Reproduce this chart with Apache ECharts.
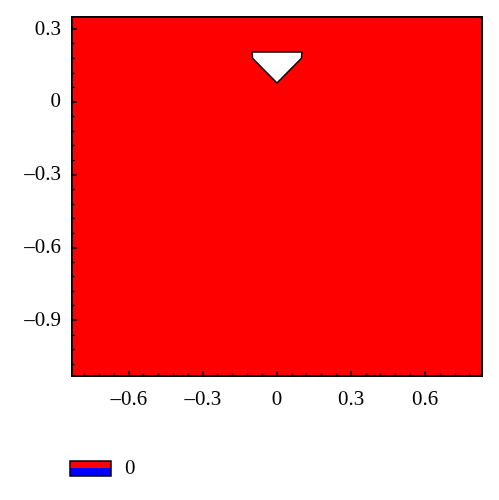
<!DOCTYPE html>
<html>
<head>
<meta charset="utf-8">
<script src="https://cdn.jsdelivr.net/npm/echarts@6/dist/echarts.min.js"></script>
<style>html,body{margin:0;padding:0;background:#fff}#c{width:499px;height:500px}</style>
</head>
<body>
<div id="c"></div>
<script>
// Domain (red region) outer boundary
const regionX = [-0.83, 0.83, 0.83, -0.83];
const regionY = [-1.13, -1.13, 0.35, 0.35];
// Hole (white) boundary
const holeX = [-0.101, 0.101, 0.099, 0.0, -0.099];
const holeY = [0.206, 0.206, 0.180, 0.078, 0.180];
// Axis ranges
const xRange = [-0.83, 0.83];
const yRange = [-1.13, 0.35];
// Tick values and labels
const xTickValues = [-0.6, -0.3, 0, 0.3, 0.6];
const xTickLabels = ['\u20130.6', '\u20130.3', '0', '0.3', '0.6'];
const yTickValues = [-0.9, -0.6, -0.3, 0, 0.3];
const yTickLabels = ['\u20130.9', '\u20130.6', '\u20130.3', '0', '0.3'];
const xMinorTicks = [-0.78, -0.72, -0.66, -0.54, -0.48, -0.42, -0.36, -0.24, -0.18, -0.12, -0.06,
  0.06, 0.12, 0.18, 0.24, 0.36, 0.42, 0.48, 0.54, 0.66, 0.72, 0.78];
const yMinorTicks = [-1.08, -1.02, -0.96, -0.84, -0.78, -0.72, -0.66, -0.54, -0.48, -0.42, -0.36,
  -0.24, -0.18, -0.12, -0.06, 0.06, 0.12, 0.18, 0.24];
const legendLabels = ['0'];

const FONT = 'Liberation Serif';
const chart = echarts.init(document.getElementById('c'));

function polyRenderer(xs, ys, style) {
  return function (params, api) {
    const pts = xs.map((x, i) => api.coord([x, ys[i]]));
    return { type: 'polygon', shape: { points: pts }, style: style };
  };
}

function fmt(values, labels) {
  return function (v) {
    for (let i = 0; i < values.length; i++) if (Math.abs(values[i] - v) < 1e-9) return labels[i];
    return '';
  };
}

const baseX = {
  type: 'value', min: xRange[0], max: xRange[1], position: 'bottom', z: 10,
  splitLine: { show: false },
  axisLine: { show: true, onZero: false, lineStyle: { color: '#000', width: 2 } }
};
const baseY = {
  type: 'value', min: yRange[0], max: yRange[1], position: 'left', z: 10,
  splitLine: { show: false },
  axisLine: { show: true, onZero: false, lineStyle: { color: '#000', width: 2 } }
};

chart.setOption({
  animation: false,
  backgroundColor: '#fff',
  grid: { left: 72, right: 17, top: 17, bottom: 124, show: false },
  xAxis: [
    Object.assign({}, baseX, {
      axisTick: { show: true, inside: true, length: 5, lineStyle: { color: '#000', width: 1.5 }, customValues: xTickValues },
      axisLabel: { show: true, customValues: xTickValues, formatter: fmt(xTickValues, xTickLabels), color: '#000', fontFamily: FONT, fontSize: 21, margin: 13 }
    }),
    Object.assign({}, baseX, {
      axisTick: { show: true, inside: true, length: 3, lineStyle: { color: '#000', width: 1.2 }, customValues: xMinorTicks },
      axisLabel: { show: false }
    }),
    Object.assign({}, baseX, {
      position: 'top', axisTick: { show: false }, axisLabel: { show: false }
    })
  ],
  yAxis: [
    Object.assign({}, baseY, {
      axisTick: { show: true, inside: true, length: 5, lineStyle: { color: '#000', width: 1.5 }, customValues: yTickValues },
      axisLabel: { show: true, customValues: yTickValues, formatter: fmt(yTickValues, yTickLabels), color: '#000', fontFamily: FONT, fontSize: 21, margin: 11 }
    }),
    Object.assign({}, baseY, {
      axisTick: { show: true, inside: true, length: 3, lineStyle: { color: '#000', width: 1.2 }, customValues: yMinorTicks },
      axisLabel: { show: false }
    }),
    Object.assign({}, baseY, {
      position: 'right', axisTick: { show: false }, axisLabel: { show: false }
    })
  ],
  series: [
    {
      type: 'custom', name: legendLabels[0], xAxisIndex: 0, yAxisIndex: 0, z: 1,
      data: [[0, 0]], clip: true,
      renderItem: polyRenderer(regionX, regionY, { fill: '#ff0000', stroke: null })
    },
    {
      type: 'custom', name: 'hole', xAxisIndex: 0, yAxisIndex: 0, z: 2,
      data: [[0, 0]], clip: true,
      renderItem: polyRenderer(holeX, holeY, { fill: '#ffffff', stroke: '#000', lineWidth: 1.5, lineJoin: 'round' })
    }
  ],
  graphic: [
    { type: 'rect', shape: { x: 70, y: 461, width: 41, height: 8 }, style: { fill: '#ff0000' }, z: 10 },
    { type: 'rect', shape: { x: 70, y: 468, width: 41, height: 8 }, style: { fill: '#0000ff' }, z: 10 },
    { type: 'rect', shape: { x: 70, y: 461, width: 41, height: 15 }, style: { fill: 'none', stroke: '#000', lineWidth: 1.5 }, z: 11 },
    { type: 'text', x: 125, y: 468, style: { text: legendLabels[0], fontFamily: FONT, fontSize: 21, fill: '#000', verticalAlign: 'middle' }, z: 10 }
  ]
});
</script>
</body>
</html>
